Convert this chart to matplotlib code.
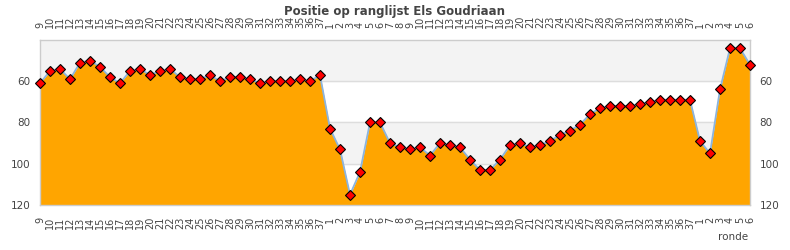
import matplotlib
matplotlib.use("Agg")
import matplotlib.pyplot as plt

# rondes: 9..37, dan 1..37, dan 1..6
ronde_labels = ([str(r) for r in range(9, 38)] + [str(r) for r in range(1, 38)]
                + [str(r) for r in range(1, 7)])

positie_a = [61, 55, 54, 59, 51, 50, 53, 58, 61, 55, 54, 57, 55, 54, 58, 59,
             59, 57, 60, 58, 58, 59, 61, 60, 60, 60, 59, 60, 57]
positie_b = [83, 93, 115, 104, 80, 80, 90, 92, 93, 92, 96, 90, 91, 92, 98, 103,
             103, 98, 91, 90, 92, 91, 89, 86, 84, 81, 76, 73, 72, 72, 72, 71,
             70, 69, 69, 69, 69]
positie_c = [89, 95, 64, 44, 44, 52]

positie = positie_a + positie_b + positie_c
x = list(range(len(positie)))

fig = plt.figure(figsize=(7.9, 2.5), dpi=100)
ax = fig.add_axes([40 / 790, 45 / 250, 710 / 790, 165 / 250])

# grijze banden
ax.axhspan(40, 60, color="#f3f3f3", zorder=0)
ax.axhspan(80, 100, color="#f3f3f3", zorder=0)
for yv in [60, 80, 100]:
    ax.axhline(yv, color="#dddddd", lw=1, zorder=0.5)

ax.fill_between(x, positie, 120, color="#ffa500", lw=0, zorder=1)
ax.plot(x, positie, color="#8ab4e0", lw=1.3, zorder=2)
ax.plot(x, positie, "D", color="#ff0000", markeredgecolor="black",
        markeredgewidth=0.8, markersize=5.5, zorder=3, clip_on=False)

ax.set_xlim(0, len(positie) - 1)
ax.set_ylim(120, 40)
ax.set_yticks([60, 80, 100, 120])
ax.set_xticks(x)
ax.set_xticklabels(ronde_labels)

ax.tick_params(axis="x", top=True, labeltop=True, bottom=True, labelbottom=True,
               length=0, labelrotation=90, labelsize=7, pad=8.5, colors="#444444")
ax.tick_params(axis="y", left=True, right=True, labelleft=True, labelright=True,
               length=0, labelsize=7.5, pad=7, colors="#444444")

for s in ax.spines.values():
    s.set_color("#cccccc")
    s.set_linewidth(1)

fig.text(0.5, 0.955, "Positie op ranglijst Els Goudriaan", ha="center", va="center",
         fontsize=8.5, fontweight="bold", color="#444444")
fig.text(748 / 790, 1 - 237 / 250, "ronde", ha="right", va="center",
         fontsize=7.5, color="#444444")

fig.savefig("out.png", dpi=100)
